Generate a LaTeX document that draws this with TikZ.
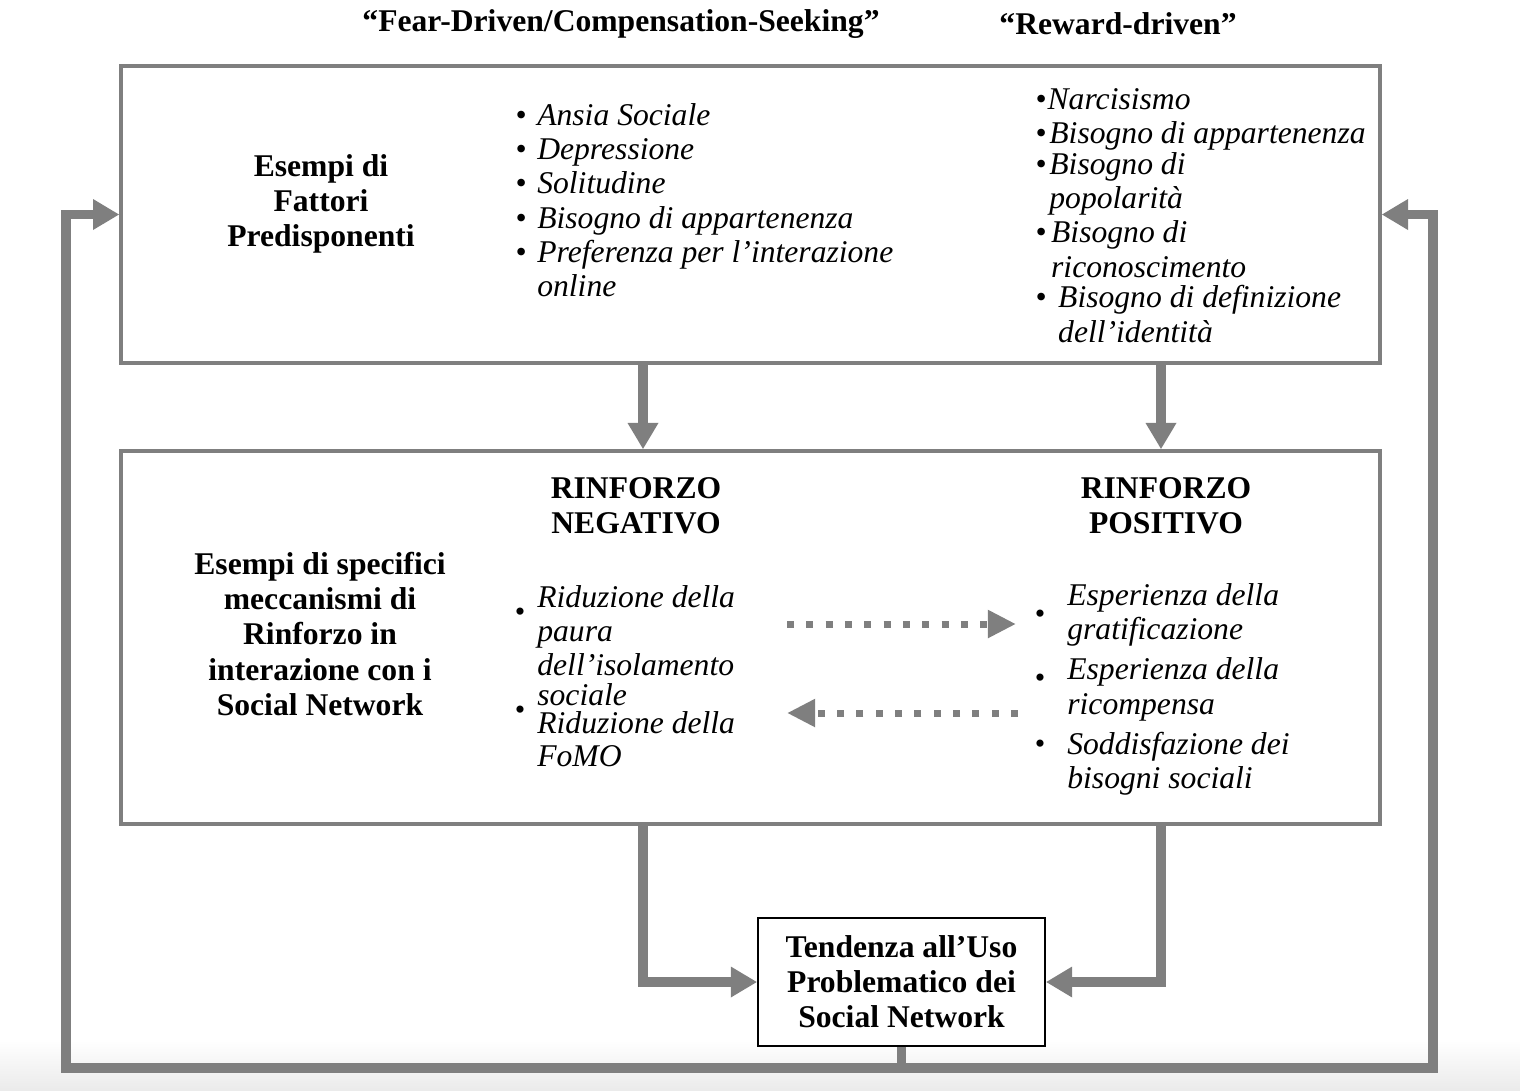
\documentclass[tikz,border=0pt]{standalone}
\usepackage{fontspec}
\setmainfont{Liberation Serif}
\usetikzlibrary{arrows.meta}
\definecolor{flowgray}{HTML}{7F7F7F}
\newcommand{\itm}[1][12.5pt]{\makebox[#1][l]{\textbullet}}
\newcommand{\cnt}[1][12.5pt]{\hspace*{#1}}
\begin{document}
\begin{tikzpicture}[x=0.02cm,y=-0.02cm,
  box/.style={draw=flowgray,line width=2pt,inner sep=0pt},
  flow/.style={draw=flowgray,line width=5.3pt,-{Triangle[length=15pt,width=16.5pt]}},
  dotflow/.style={draw=flowgray,line width=4pt,dash pattern=on 4pt off 7pt,-{Triangle[length=16pt,width=15pt]}},
  lbl/.style={font=\fontsize{18}{20}\selectfont\bfseries,align=center},
  lst/.style={font=\fontsize{18}{19.5}\selectfont\itshape,align=left,anchor=north west,inner sep=0pt},
  dot/.style={font=\fontsize{17}{17}\selectfont,inner sep=0pt}]
\useasboundingbox (0,0) rectangle (1520,1090);
\shade[top color=white,bottom color=black!8] (0,1040) rectangle (1520,1090);

% boxes
\node[box,minimum width=25.18cm,minimum height=5.94cm] (pred) at (750.5,214.5) {};
\node[box,minimum width=25.18cm,minimum height=7.46cm] (rinf) at (750.5,637.5) {};
\node[draw,line width=1pt,fill=white,minimum width=5.74cm,minimum height=2.56cm,lbl] (tend) at (901.5,982) {Tendenza all’Uso\\Problematico dei\\Social Network};

% headings
\node[lbl] (fear) at (621,24) {“Fear-Driven/Compensation-Seeking”};
\node[lbl] (rew) at (1118,24) {“Reward-driven”};
\node[lbl] (fatt) at (321,204) {Esempi di\\Fattori\\Predisponenti};
\node[lbl] (mecc) at (320,634) {Esempi di specifici\\meccanismi di\\Rinforzo in\\interazione con i\\Social Network};
\node[lbl] (neg) at (636,506) {RINFORZO\\NEGATIVO};
\node[lbl] (pos) at (1166,506) {RINFORZO\\POSITIVO};

% lists
\node[lst] (fearlist) at (515,103) {\itm Ansia Sociale\\ \itm Depressione\\ \itm Solitudine\\ \itm Bisogno di appartenenza\\ \itm Preferenza per l’interazione\\ \cnt online};
\node[lst] (rewlist) at (1035,88) {\itm[7pt]Narcisismo\\ \itm[8pt]Bisogno di appartenenza\\[-2pt] \itm[8pt]Bisogno di\\ \cnt[8pt]popolarità\\ \itm[9pt]Bisogno di\\ \cnt[9pt]riconoscimento\\[-2pt] \itm[13pt]Bisogno di definizione\\ \cnt[13pt]dell’identità};
\node[lst] (neglist) at (537,585) {Riduzione della\\ paura\\ dell’isolamento\\[-2.8pt] sociale\\[-3.2pt] Riduzione della\\[-0.8pt] FoMO};
\node[lst] (poslist) at (1067,583) {Esperienza della\\ gratificazione\\[3.5pt] Esperienza della\\ ricompensa\\[3.5pt] Soddisfazione dei\\ bisogni sociali};
\node[dot] (n1) at (520,615) {\textbullet};
\node[dot] (n2) at (520,713) {\textbullet};
\node[dot] (p1) at (1040,617) {\textbullet};
\node[dot] (p2) at (1040,681) {\textbullet};
\node[dot] (p3) at (1040,747) {\textbullet};

% connectors
\coordinate (nx) at (643,0);
\coordinate (px) at (1161,0);
\draw[flow] (nx |- pred.south) -- (nx |- rinf.north);
\draw[flow] (px |- pred.south) -- (px |- rinf.north);
\draw[flow] (nx |- rinf.south) |- (tend.west);
\draw[flow] (px |- rinf.south) |- (tend.east);
\coordinate (fbl) at (66,1068);
\coordinate (fbr) at (1433,1068);
\draw[flow] (tend.south) |- (fbl) |- (pred.west);
\draw[flow] (tend.south) |- (fbr) |- (pred.east);

\coordinate (d1a) at (787,624);
\coordinate (d1b) at (1016,624);
\coordinate (d2a) at (1018,713);
\coordinate (d2b) at (787,713);
\draw[dotflow] (d1a) -- (d1b);
\draw[dotflow] (d2a) -- (d2b);
\end{tikzpicture}
\end{document}
